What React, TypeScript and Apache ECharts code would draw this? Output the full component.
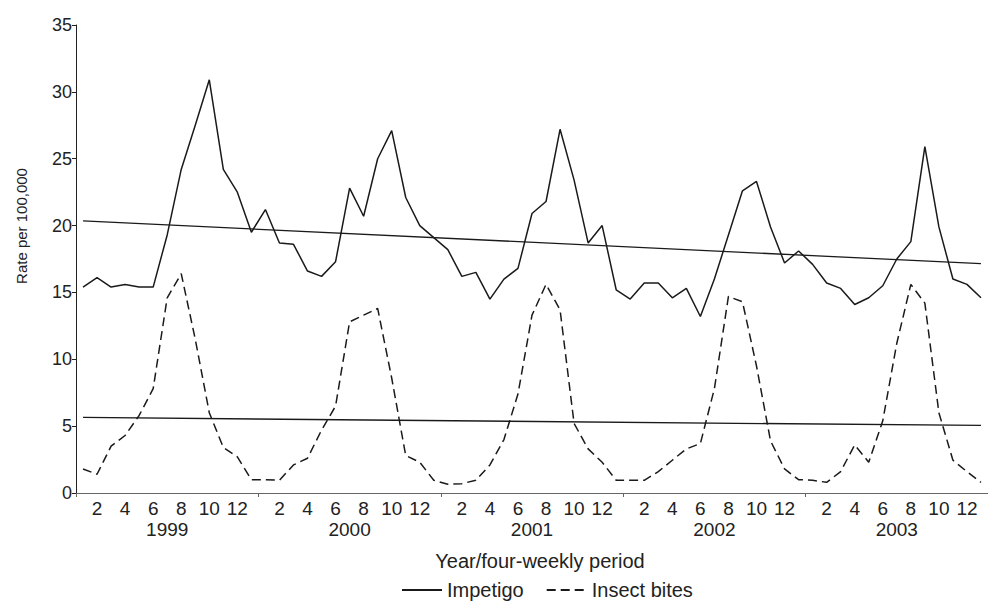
import React, { useEffect, useRef } from "react";
import * as echarts from "echarts";

const years = ["1999", "2000", "2001", "2002", "2003"];
const periods = [1, 2, 3, 4, 5, 6, 7, 8, 9, 10, 11, 12, 13];
const yTicks = [0, 5, 10, 15, 20, 25, 30, 35];

const impetigo = [
  15.4, 16.1, 15.4, 15.6, 15.4, 15.4, 19.3, 24.2, 27.5, 30.9, 24.2, 22.5, 19.5,
  21.2, 18.7, 18.6, 16.6, 16.2, 17.3, 22.8, 20.7, 25.0, 27.1, 22.1, 20.0, 19.1,
  18.2, 16.2, 16.5, 14.5, 16.0, 16.8, 20.9, 21.8, 27.2, 23.4, 18.7, 20.0, 15.2,
  14.5, 15.7, 15.7, 14.6, 15.3, 13.2, 16.0, 19.3, 22.6, 23.3, 19.9, 17.2, 18.1,
  17.1, 15.7, 15.3, 14.1, 14.6, 15.5, 17.5, 18.8, 25.9, 19.9, 16.0, 15.6, 14.6,
];

const insectBites = [
  1.8, 1.4, 3.5, 4.3, 5.8, 7.8, 14.6, 16.4, 11.5, 6.0, 3.4, 2.7, 1.0,
  1.0, 0.95, 2.1, 2.6, 4.7, 6.5, 12.8, 13.3, 13.8, 8.6, 2.8, 2.3, 0.95,
  0.65, 0.7, 0.95, 2.1, 4.0, 7.4, 13.3, 15.6, 13.7, 5.2, 3.3, 2.3, 0.95,
  0.95, 0.95, 1.6, 2.45, 3.3, 3.7, 7.8, 14.7, 14.3, 9.5, 3.9, 1.8, 1.0,
  0.95, 0.8, 1.6, 3.6, 2.3, 5.4, 11.2, 15.6, 14.2, 6.0, 2.45, 1.6, 0.8,
];

// trend line end values [start, end]
const impetigoTrend = [20.35, 17.15];
const insectTrend = [5.65, 5.05];

const categories = years.flatMap((y) => periods.map((p) => `${y}-${p}`));

const FONT = "Liberation Sans, Arial, sans-serif";
const INK = "#222";

export default function App() {
  const ref = useRef<HTMLDivElement>(null);

  useEffect(() => {
    if (!ref.current) return;
    const chart = echarts.init(ref.current, undefined, { renderer: "svg" });
    const last = categories.length - 1;
    chart.setOption({
      animation: false,
      backgroundColor: "#fff",
      textStyle: { fontFamily: FONT, color: INK },
      grid: { left: 76, top: 25, width: 918.5, height: 468, containLabel: false },
      legend: {
        data: ["Impetigo", "Insect bites"],
        left: 396,
        top: 575,
        itemWidth: 40,
        itemHeight: 14,
        itemGap: 22,
        itemStyle: { opacity: 0 },
        textStyle: { fontFamily: FONT, fontSize: 20, color: INK },
      },
      xAxis: [
        {
          type: "category",
          data: categories,
          boundaryGap: true,
          axisLine: { show: true, lineStyle: { color: "#666", width: 1 } },
          axisTick: {
            show: true,
            interval: (i: number) => i % 13 === 0,
            length: 4,
            lineStyle: { color: "#666" },
          },
          axisLabel: {
            interval: (i: number) => i % 13 % 2 === 1,
            formatter: (v: string) => v.split("-")[1],
            fontFamily: FONT,
            fontSize: 19,
            color: INK,
            margin: 6,
            hideOverlap: false,
          },
          splitLine: { show: false },
        },
        {
          type: "category",
          data: years,
          position: "bottom",
          offset: 21,
          boundaryGap: true,
          axisLine: { show: false },
          axisTick: { show: false },
          axisLabel: { fontFamily: FONT, fontSize: 19, color: INK, margin: 6 },
          splitLine: { show: false },
        },
      ],
      yAxis: {
        type: "value",
        min: yTicks[0],
        max: yTicks[yTicks.length - 1],
        interval: 5,
        axisLine: { show: true, lineStyle: { color: INK, width: 1 } },
        axisTick: { show: true, length: 4, lineStyle: { color: INK } },
        axisLabel: { fontFamily: FONT, fontSize: 18, color: INK, margin: 4 },
        splitLine: { show: false },
      },
      graphic: [
        {
          type: "text",
          x: 21,
          y: 226,
          rotation: Math.PI / 2,
          style: {
            text: "Rate per 100,000",
            fontFamily: FONT,
            fontSize: 15,
            fill: INK,
            textAlign: "center",
            textVerticalAlign: "middle",
          },
        },
        {
          type: "text",
          x: 540,
          y: 561,
          style: {
            text: "Year/four-weekly period",
            fontFamily: FONT,
            fontSize: 20,
            fill: INK,
            textAlign: "center",
            textVerticalAlign: "middle",
          },
        },
      ],
      series: [
        {
          name: "Impetigo",
          type: "line",
          data: impetigo,
          symbol: "none",
          showSymbol: false,
          lineStyle: { color: "#1a1a1a", width: 1.5, type: "solid" },
          itemStyle: { color: "#1a1a1a" },
          markLine: {
            silent: true,
            symbol: "none",
            label: { show: false },
            lineStyle: { color: "#1a1a1a", width: 1.3, type: "solid" },
            data: [
              [
                { coord: [categories[0], impetigoTrend[0]] },
                { coord: [categories[last], impetigoTrend[1]] },
              ],
            ],
          },
        },
        {
          name: "Insect bites",
          type: "line",
          data: insectBites,
          symbol: "none",
          showSymbol: false,
          lineStyle: { color: "#1a1a1a", width: 1.5, type: [9, 5] },
          itemStyle: { color: "#1a1a1a" },
          markLine: {
            silent: true,
            symbol: "none",
            label: { show: false },
            lineStyle: { color: "#1a1a1a", width: 1.3, type: "solid" },
            data: [
              [
                { coord: [categories[0], insectTrend[0]] },
                { coord: [categories[last], insectTrend[1]] },
              ],
            ],
          },
        },
      ],
    });
    return () => chart.dispose();
  }, []);

  return (
    <div
      ref={ref}
      style={{ position: "absolute", left: 0, top: 0, width: 988, height: 605 }}
    />
  );
}
